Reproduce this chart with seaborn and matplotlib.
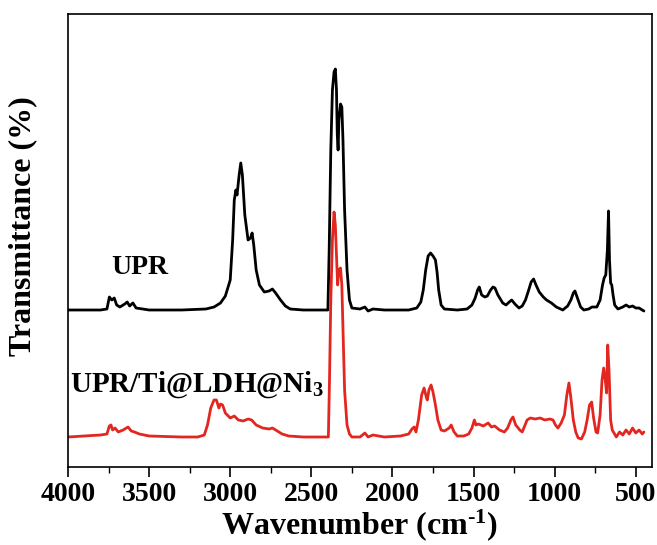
import numpy as np
import pandas as pd
import matplotlib
matplotlib.use("Agg")
import matplotlib.pyplot as plt
import seaborn as sns
from matplotlib.ticker import MultipleLocator

# ---- data (y in arbitrary offset transmittance units) ----
upr_wn = [4000, 3900, 3800, 3760, 3745, 3730, 3715, 3700, 3680, 3650, 3635, 3620, 3600, 3580, 3500, 3300,
          3150, 3100, 3060, 3030, 3000, 2985, 2975, 2965, 2958, 2945, 2935, 2925, 2910, 2890, 2875, 2865,
          2855, 2840, 2820, 2790, 2760, 2740, 2720, 2690, 2660, 2630, 2550, 2420, 2398, 2390, 2380, 2370,
          2360, 2352, 2345, 2340, 2335, 2330, 2320, 2312, 2305, 2295, 2280, 2265, 2250, 2200, 2170, 2150,
          2120, 2050, 1900, 1850, 1825, 1810, 1795, 1780, 1765, 1750, 1735, 1725, 1715, 1700, 1680, 1600,
          1540, 1510, 1490, 1475, 1465, 1450, 1430, 1415, 1395, 1380, 1368, 1350, 1320, 1300, 1280, 1265,
          1245, 1220, 1200, 1180, 1160, 1145, 1130, 1115, 1095, 1070, 1050, 1020, 990, 950, 920, 900, 885,
          875, 860, 840, 820, 790, 770, 740, 720, 705, 695, 685, 675, 668, 662, 655, 648, 640, 630, 610,
          580, 560, 540, 520, 500, 480, 460, 450]
upr_px = [310, 310, 310, 309, 297, 300, 298, 305, 307, 304, 302, 306, 303, 308, 310, 310,
          309, 307, 303, 296, 280, 240, 200, 190, 195, 175, 163, 175, 215, 240, 238, 233,
          245, 270, 285, 292, 291, 289, 293, 300, 306, 309, 310, 310, 310, 250, 150, 90,
          72, 69, 90, 135, 150, 120, 104, 107, 140, 210, 270, 300, 308, 309, 307, 311,
          309, 310, 310, 308, 302, 290, 270, 256, 253, 256, 260, 272, 290, 305, 309, 310,
          309, 305, 298, 290, 287, 295, 297, 296, 290, 287, 288, 295, 303, 305, 302, 300,
          304, 308, 306, 300, 290, 282, 279, 285, 292, 297, 300, 303, 307, 310, 306, 300, 293,
          291, 298, 307, 310, 309, 307, 307, 300, 285, 278, 275, 250, 211, 260, 283, 285, 295, 305, 309,
          307, 305, 307, 306, 308, 308, 310, 311]

comp_wn = [4000, 3900, 3800, 3760, 3745, 3735, 3725, 3710, 3690, 3660, 3640, 3630, 3610, 3590, 3560, 3500,
           3300, 3200, 3160, 3140, 3120, 3100, 3085, 3070, 3060, 3047, 3030, 3000, 2975, 2950, 2920, 2890,
           2868, 2840, 2800, 2760, 2740, 2710, 2680, 2640, 2550, 2420, 2395, 2388, 2380, 2370, 2360, 2352,
           2345, 2338, 2330, 2320, 2312, 2305, 2295, 2280, 2265, 2250, 2200, 2170, 2150, 2120, 2050, 1950,
           1900, 1880, 1866, 1855, 1840, 1820, 1805, 1790, 1785, 1775, 1762, 1750, 1735, 1720, 1700, 1680,
           1650, 1638, 1620, 1600, 1560, 1530, 1510, 1495, 1485, 1470, 1440, 1410, 1390, 1370, 1340, 1310,
           1290, 1270, 1257, 1240, 1215, 1200, 1190, 1170, 1150, 1120, 1090, 1060, 1030, 1010, 995, 980,
           960, 940, 925, 912, 900, 885, 870, 855, 835, 815, 800, 785, 772, 760, 745, 735, 720, 708, 698,
           688, 680, 673, 665, 655, 645, 620, 600, 580, 560, 540, 520, 500, 480, 460, 450]
comp_px = [437, 436, 435, 434, 426, 425, 430, 428, 432, 430, 428, 427, 431, 432, 434, 436,
           437, 437, 435, 425, 408, 400, 400, 408, 404, 405, 413, 418, 416, 420, 421, 419,
           420, 425, 428, 429, 428, 431, 434, 436, 437, 437, 437, 380, 300, 240, 212, 225,
           255, 285, 270, 268, 285, 330, 390, 425, 434, 437, 437, 433, 437, 435, 437, 436,
           434, 429, 427, 432, 420, 395, 388, 398, 400, 390, 385, 392, 405, 420, 430, 431,
           428, 425, 432, 436, 436, 434, 428, 420, 425, 424, 426, 423, 427, 426, 430, 432,
           428, 420, 417, 425, 430, 432, 428, 420, 418, 419, 418, 420, 419, 420, 425, 428,
           423, 415, 395, 383, 398, 420, 432, 438, 439, 432, 420, 405, 402, 418, 432, 433, 415, 380, 368,
           380, 393, 345, 370, 420, 430, 437, 432, 435, 430, 434, 428, 433, 430, 434, 432]

series_names = ["UPR", "UPR/Ti@LDH@Ni3"]
series_colors = ["#000000", "#e3261f"]
xticks = [4000, 3500, 3000, 2500, 2000, 1500, 1000, 500]

REF = 467  # conversion of picture readings into offset units
upr_val = [REF - v for v in upr_px]
comp_val = [REF - v for v in comp_px]

df = pd.concat([
    pd.DataFrame({"wn": upr_wn, "T": upr_val, "s": series_names[0]}),
    pd.DataFrame({"wn": comp_wn, "T": comp_val, "s": series_names[1]}),
])

sns.set_style("ticks")
plt.rcParams["font.family"] = ["Liberation Serif", "DejaVu Serif"]
plt.rcParams["font.weight"] = "bold"
plt.rcParams["text.color"] = "black"
plt.rcParams["axes.labelcolor"] = "black"
plt.rcParams["xtick.color"] = "black"
plt.rcParams["ytick.color"] = "black"
plt.rcParams["axes.edgecolor"] = "black"
plt.rcParams["mathtext.fontset"] = "custom"
plt.rcParams["mathtext.rm"] = "Liberation Serif:bold"
plt.rcParams["mathtext.bf"] = "Liberation Serif:bold"
plt.rcParams["mathtext.it"] = "Liberation Serif:bold"

fig = plt.figure(figsize=(6.57, 5.45), dpi=100)
ax = fig.add_axes([68 / 657, 1 - 467 / 545, (652 - 68) / 657, (467 - 14) / 545])

sns.lineplot(data=df, x="wn", y="T", hue="s", palette=dict(zip(series_names, series_colors)),
             sort=False, estimator=None, linewidth=2.0, legend=False, ax=ax)

ax.set_xlim(4000, 400)
ax.set_ylim(0, 453)
ax.set_xticks(xticks)
ax.xaxis.set_minor_locator(MultipleLocator(250))
ax.set_yticks([])
ax.tick_params(axis="x", which="major", direction="out", length=7, width=1.2, labelsize=20, pad=4,
               colors="black")
ax.tick_params(axis="x", which="minor", direction="out", length=4, width=1.0, colors="black")
for lab in ax.get_xticklabels():
    lab.set_fontweight("bold")
for sp in ax.spines.values():
    sp.set_linewidth(1.2)
    sp.set_color("black")

ax.set_xlabel("Wavenumber (cm$^{\\text{-}1}$)", fontsize=23, fontweight="bold", labelpad=0, color="black")
ax.set_ylabel("Transmittance (%)", fontsize=23, fontweight="bold", color="black")
ax.yaxis.set_label_coords(-0.053, 0.532)

ax.text(3560, 199, "UPR", fontsize=20, fontweight="bold", ha="center", va="center", color="black")
ax.text(3990, 82, "UPR/Ti@LDH@Ni$_3$", fontsize=21, fontweight="bold", ha="left", va="center",
        color="black")

fig.savefig("out.png", dpi=100)
